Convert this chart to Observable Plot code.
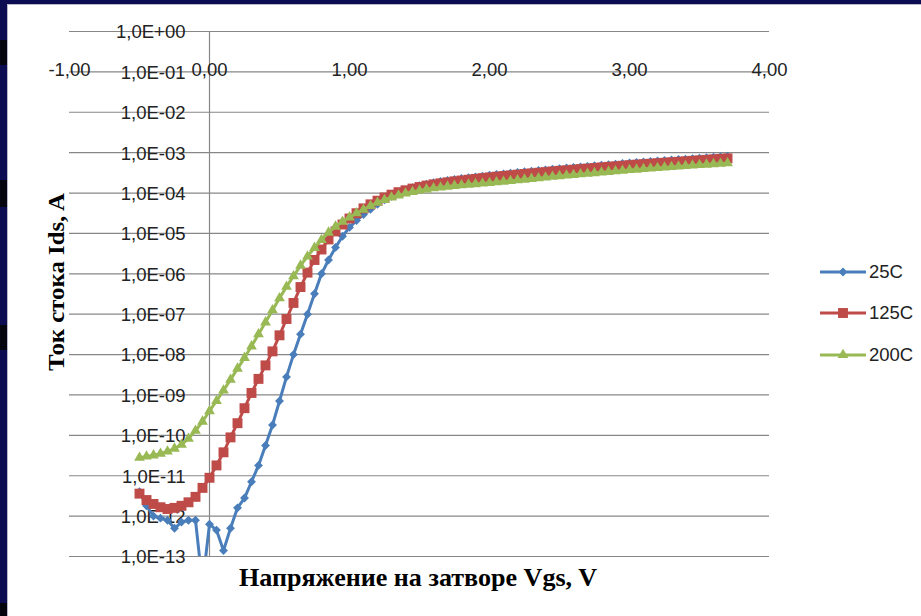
<!DOCTYPE html>
<html><head><meta charset="utf-8">
<script src="https://cdn.jsdelivr.net/npm/d3@7"></script>
<script src="https://cdn.jsdelivr.net/npm/@observablehq/plot@0.6"></script>
<style>
html,body{margin:0;padding:0}
body{width:921px;height:616px;background:#0c0c52;position:relative;overflow:hidden;font-family:"Liberation Sans",Arial,sans-serif}
.blk{position:absolute;left:0;width:7px;background:#050510}
#edgeL{position:absolute;left:7px;top:4px;width:1px;height:612px;background:#b8b8c8}
#edgeT{position:absolute;left:7px;top:4px;width:914px;height:1px;background:#b8b8c8}
#panel{position:absolute;left:8px;top:5px;width:913px;height:611px;background:#fff}
#chart{position:absolute;left:0;top:0}
#titles{position:absolute;left:0;top:0;pointer-events:none}
.leg{position:absolute;display:flex;align-items:center;font-size:18.5px;color:#222}
</style></head>
<body>
<div class="blk" style="top:40px;height:25px"></div>
<div class="blk" style="top:180px;height:27px"></div>
<div class="blk" style="top:325px;height:25px"></div>
<div class="blk" style="top:603px;height:13px"></div>
<div id="edgeL"></div><div id="edgeT"></div>
<div id="panel"><div id="chart"></div>
<svg id="titles" width="913" height="611">
  <text id="xt" x="410" y="581" text-anchor="middle" font-family="Liberation Serif, Times New Roman, serif" font-weight="bold" font-size="25" fill="#000" textLength="358" lengthAdjust="spacingAndGlyphs">Напряжение на  затворе Vgs, V</text>
  <text id="yt" transform="translate(48,277) rotate(-90)" x="0" y="8" text-anchor="middle" font-family="Liberation Serif, Times New Roman, serif" font-weight="bold" font-size="24" fill="#000" textLength="178" lengthAdjust="spacingAndGlyphs">Ток стока Ids, A</text>
</svg>
</div>
<script>
// ---- data ----
const vgs = [-0.50,-0.45,-0.40,-0.35,-0.30,-0.25,-0.20,-0.15,-0.10,-0.05,
 0.00,0.05,0.10,0.15,0.20,0.25,0.30,0.35,0.40,0.45,0.50,0.55,0.60,0.65,0.70,0.75,0.80,0.85,0.90,0.95,
 1.00,1.05,1.10,1.15,1.20,1.25,1.30,1.35,1.40,1.45,1.50,1.55,1.60,1.65,1.70,1.75,1.80,1.85,1.90,1.95,
 2.00,2.05,2.10,2.15,2.20,2.25,2.30,2.35,2.40,2.45,2.50,2.55,2.60,2.65,2.70,2.75,2.80,2.85,2.90,2.95,
 3.00,3.05,3.10,3.15,3.20,3.25,3.30,3.35,3.40,3.45,3.50,3.55,3.60,3.65,3.70];

const ids25 = [4.0e-12,1.8e-12,1.0e-12,8.9e-13,7.9e-13,5.0e-13,7.1e-13,7.9e-13,7.9e-13,2.0e-14,
 6.3e-13,4.5e-13,1.4e-13,5.0e-13,1.6e-12,2.8e-12,7.1e-12,1.8e-11,5.6e-11,1.8e-10,7.1e-10,2.8e-9,1.0e-8,3.2e-8,1.0e-7,3.2e-7,1.0e-6,2.2e-6,4.5e-6,8.5e-6,
 1.41e-5,2.09e-5,2.95e-5,3.98e-5,5.25e-5,6.76e-5,8.32e-5,1.0e-4,1.17e-4,1.35e-4,1.51e-4,1.66e-4,1.80e-4,1.93e-4,2.04e-4,2.16e-4,2.29e-4,2.40e-4,2.51e-4,2.63e-4,
 2.77e-4,2.88e-4,2.99e-4,3.11e-4,3.24e-4,3.36e-4,3.48e-4,3.61e-4,3.75e-4,3.89e-4,4.03e-4,4.16e-4,4.30e-4,4.44e-4,4.58e-4,4.73e-4,4.89e-4,5.05e-4,5.21e-4,5.38e-4,
 5.56e-4,5.71e-4,5.87e-4,6.04e-4,6.21e-4,6.38e-4,6.56e-4,6.75e-4,6.93e-4,7.13e-4,7.33e-4,7.53e-4,7.74e-4,7.96e-4,8.18e-4];

const ids125 = [3.6e-12,2.5e-12,2.0e-12,1.66e-12,1.5e-12,1.6e-12,1.8e-12,2.2e-12,3.0e-12,5.0e-12,
 8.9e-12,1.8e-11,3.8e-11,8.9e-11,2.0e-10,4.7e-10,1.12e-9,2.5e-9,5.4e-9,1.2e-8,3.0e-8,7.6e-8,1.9e-7,4.7e-7,1.07e-6,2.2e-6,4.0e-6,7.1e-6,1.12e-5,1.66e-5,
 2.34e-5,3.16e-5,4.17e-5,5.25e-5,6.46e-5,7.76e-5,9.12e-5,1.05e-4,1.17e-4,1.29e-4,1.41e-4,1.53e-4,1.64e-4,1.74e-4,1.84e-4,1.95e-4,2.04e-4,2.14e-4,2.24e-4,2.34e-4,
 2.44e-4,2.54e-4,2.64e-4,2.74e-4,2.85e-4,2.96e-4,3.07e-4,3.18e-4,3.30e-4,3.43e-4,3.55e-4,3.66e-4,3.78e-4,3.91e-4,4.04e-4,4.17e-4,4.31e-4,4.45e-4,4.59e-4,4.74e-4,
 4.90e-4,5.04e-4,5.18e-4,5.32e-4,5.47e-4,5.62e-4,5.78e-4,5.94e-4,6.11e-4,6.28e-4,6.46e-4,6.64e-4,6.82e-4,7.01e-4,7.21e-4];

const ids200 = [2.8e-11,3.0e-11,3.2e-11,3.5e-11,4.0e-11,4.7e-11,5.9e-11,8.3e-11,1.3e-10,2.2e-10,
 4.0e-10,7.1e-10,1.3e-9,2.4e-9,4.5e-9,8.3e-9,1.6e-8,3.2e-8,6.3e-8,1.26e-7,2.5e-7,4.8e-7,8.7e-7,1.6e-6,2.7e-6,4.4e-6,6.9e-6,1.05e-5,1.48e-5,1.95e-5,
 2.51e-5,3.16e-5,3.89e-5,4.79e-5,5.75e-5,6.76e-5,7.76e-5,8.71e-5,9.77e-5,1.07e-4,1.16e-4,1.24e-4,1.32e-4,1.38e-4,1.45e-4,1.51e-4,1.57e-4,1.62e-4,1.67e-4,1.73e-4,
 1.78e-4,1.85e-4,1.92e-4,2.00e-4,2.08e-4,2.16e-4,2.25e-4,2.34e-4,2.43e-4,2.53e-4,2.63e-4,2.72e-4,2.82e-4,2.92e-4,3.02e-4,3.13e-4,3.24e-4,3.35e-4,3.47e-4,3.59e-4,
 3.72e-4,3.82e-4,3.94e-4,4.05e-4,4.17e-4,4.29e-4,4.42e-4,4.54e-4,4.68e-4,4.81e-4,4.95e-4,5.08e-4,5.21e-4,5.35e-4,5.48e-4];

const seriesNames = ["25C","125C","200C"];
const seriesColors = ["#4a7ebb","#be4b48","#98b954"];
const seriesSymbols = ["diamond2","square","triangle"];
const seriesR = [4.0,5.6,4.0];

const yTicks = [1,1e-1,1e-2,1e-3,1e-4,1e-5,1e-6,1e-7,1e-8,1e-9,1e-10,1e-11,1e-12,1e-13];
const yLabels = ["1,0E+00","1,0E-01","1,0E-02","1,0E-03","1,0E-04","1,0E-05","1,0E-06","1,0E-07","1,0E-08","1,0E-09","1,0E-10","1,0E-11","1,0E-12","1,0E-13"];
const xTicks = [-1,0,1,2,3,4];
const xLabels = ["-1,00","0,00","1,00","2,00","3,00","4,00"];

// ---- build ----
const allIds = [ids25, ids125, ids200];
const tables = allIds.map(arr => vgs.map((v, i) => ({v, ids: arr[i]})));
const yTickRows = yTicks.map((t, i) => ({t, label: yLabels[i]}));

const marks = [
  Plot.ruleY(yTicks, {stroke: "#878787", strokeWidth: 1.2}),
  Plot.ruleX([0], {stroke: "#878787", strokeWidth: 1.2}),
  Plot.text(yTickRows, {x: () => 0, y: "t", text: "label", textAnchor: "end", dx: -24, dy: 1,
    fontSize: 18.5, fontFamily: "Liberation Sans, Arial, sans-serif", fill: "#222"}),
  Plot.text(xTicks, {x: d => d, frameAnchor: "top", dy: 31, text: (d, i) => xLabels[i],
    fontSize: 18.5, fontFamily: "Liberation Sans, Arial, sans-serif", fill: "#222"})
];
tables.forEach((rows, k) => {
  marks.push(Plot.line(rows, {x: "v", y: "ids", stroke: seriesColors[k], strokeWidth: 3, clip: true}));
  marks.push(Plot.dot(rows, {x: "v", y: "ids", symbol: seriesSymbols[k], r: seriesR[k],
    fill: seriesColors[k], stroke: "none", clip: true}));
});

const chart = Plot.plot({
  width: 913, height: 611,
  marginLeft: 61, marginRight: 152, marginTop: 26, marginBottom: 60,
  x: {domain: [-1, 4], axis: null},
  y: {type: "log", domain: [1e-13, 1], axis: null},
  style: {background: "transparent", overflow: "visible"},
  marks
});
document.getElementById("chart").appendChild(chart);

// ---- legend ----
const legTop = [272, 313, 355];
const panel = document.getElementById("panel");
seriesNames.forEach((name, k) => {
  const div = document.createElement("div");
  div.className = "leg";
  div.style.left = (820 - 8) + "px";
  div.style.top = (legTop[k] - 5 - 11) + "px";
  div.style.height = "22px";
  const sym = d3.symbol(k === 0 ? d3.symbolDiamond2 : k === 1 ? d3.symbolSquare : d3.symbolTriangle,
    Math.PI * seriesR[k] * seriesR[k])();
  div.innerHTML = `<svg width="46" height="22" style="display:block"><line x1="0" x2="46" y1="11" y2="11" stroke="${seriesColors[k]}" stroke-width="3"/><path d="${sym}" transform="translate(23,11)" fill="${seriesColors[k]}"/></svg><span style="margin-left:3px">${name}</span>`;
  panel.appendChild(div);
});
</script>
</body></html>
